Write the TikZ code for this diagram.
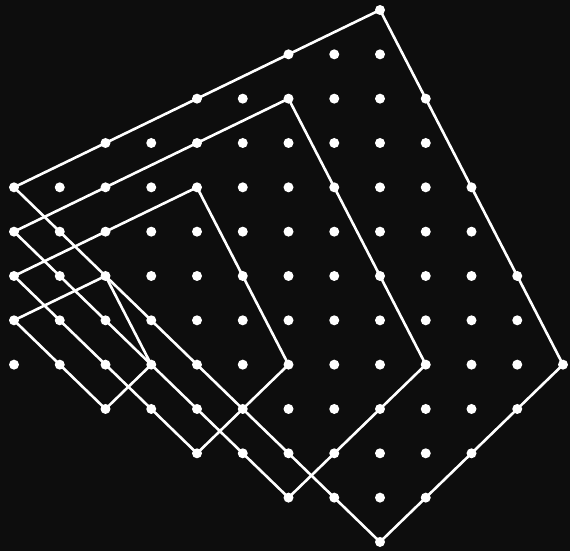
\documentclass[tikz,border=0pt]{standalone}
\usepackage{tikz}
\definecolor{bgdark}{RGB}{13,13,13}
\begin{document}
\begin{tikzpicture}[
  x=45.75pt,y=-44.33pt,
  dot/.style={circle,fill=white,inner sep=0pt,minimum size=10pt},
  edge/.style={white,line width=2.6pt,line join=round,line cap=round},
]
\fill[bgdark] (-14pt,10pt) rectangle (556pt,-541pt);
\useasboundingbox (-14pt,10pt) rectangle (556pt,-541pt);
\foreach \j/\from/\to in {0/8/8,1/6/8,2/4/9,3/2/9,4/0/10,5/0/10,6/0/11,
                          7/0/11,8/0/12,9/2/11,10/4/10,11/6/9,12/8/8}
  \foreach \i in {\from,...,\to}
    \node[dot] (p\i-\j) at (\i,\j) {};
\foreach \k in {1,...,4}{
  \pgfmathtruncatemacro\tx{2*\k}
  \pgfmathtruncatemacro\ty{8-2*\k}
  \pgfmathtruncatemacro\rx{3*\k}
  \pgfmathtruncatemacro\by{8+\k}
  \pgfmathtruncatemacro\ly{8-\k}
  \draw[edge] (p0-\ly.center) -- (p\tx-\ty.center) -- (p\rx-8.center)
    -- (p\tx-\by.center) -- cycle;
}
\end{tikzpicture}
\end{document}
